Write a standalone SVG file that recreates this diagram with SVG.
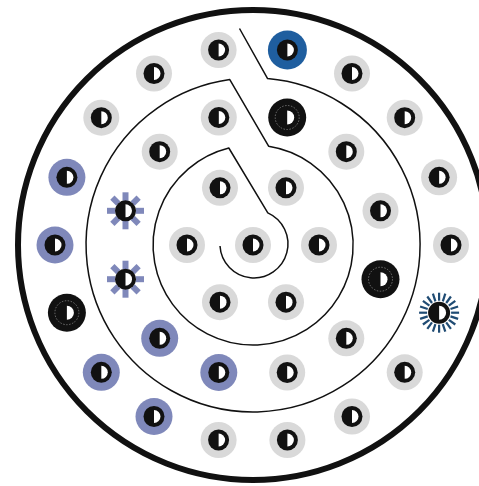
<svg xmlns="http://www.w3.org/2000/svg" xmlns:xlink="http://www.w3.org/1999/xlink" width="479" height="486" viewBox="0 0 479 486">
<style>
.g{fill:#d9d9d9}
.p{fill:#7f88ba}
.b{fill:#1f5e9f}
.k{fill:#111}
.w{fill:#fff}
.sp{fill:none;stroke:#111;stroke-width:1.5;stroke-linejoin:round}
.rp{stroke:#7f88ba;stroke-width:6}
.rd{stroke:#1f4b73;stroke-width:2.2}
</style>
<defs>
<g id="core"><circle r="10.5" class="k"/><path d="M0,-6.5A6.5,6.5 0 0 1 0,6.5Z" class="w"/></g>
<g id="gray"><circle r="18" class="g"/><use href="#core"/></g>
<g id="purple"><circle r="18.5" class="p"/><use href="#core"/></g>
<g id="blue"><circle r="19.5" class="b"/><use href="#core"/></g>
<g id="black"><circle r="19" class="k"/><circle r="12" fill="none" stroke="#aaa" stroke-width="0.6" stroke-dasharray="1.5 1.5"/><path d="M0,-7A7,7 0 0 1 0,7Z" class="w"/></g>
<g id="sunp"><g class="rp">
<line x1="0" y1="-10" x2="0" y2="-18.5"/><line x1="0" y1="10" x2="0" y2="18.5"/><line x1="-10" y1="0" x2="-18.5" y2="0"/><line x1="10" y1="0" x2="18.5" y2="0"/>
<line x1="7.1" y1="-7.1" x2="13.1" y2="-13.1"/><line x1="-7.1" y1="-7.1" x2="-13.1" y2="-13.1"/><line x1="7.1" y1="7.1" x2="13.1" y2="13.1"/><line x1="-7.1" y1="7.1" x2="-13.1" y2="13.1"/>
</g><use href="#core"/></g>
<g id="sund"><g class="rd">
<line x1="0" y1="-12" x2="0" y2="-20"/><line x1="3.7" y1="-11.4" x2="6.2" y2="-19"/><line x1="7.1" y1="-9.7" x2="11.8" y2="-16.2"/><line x1="9.7" y1="-7.1" x2="16.2" y2="-11.8"/><line x1="11.4" y1="-3.7" x2="19" y2="-6.2"/>
<line x1="12" y1="0" x2="20" y2="0"/><line x1="11.4" y1="3.7" x2="19" y2="6.2"/><line x1="9.7" y1="7.1" x2="16.2" y2="11.8"/><line x1="7.1" y1="9.7" x2="11.8" y2="16.2"/><line x1="3.7" y1="11.4" x2="6.2" y2="19"/>
<line x1="0" y1="12" x2="0" y2="20"/><line x1="-3.7" y1="11.4" x2="-6.2" y2="19"/><line x1="-7.1" y1="9.7" x2="-11.8" y2="16.2"/><line x1="-9.7" y1="7.1" x2="-16.2" y2="11.8"/><line x1="-11.4" y1="3.7" x2="-19" y2="6.2"/>
<line x1="-12" y1="0" x2="-20" y2="0"/><line x1="-11.4" y1="-3.7" x2="-19" y2="-6.2"/><line x1="-9.7" y1="-7.1" x2="-16.2" y2="-11.8"/><line x1="-7.1" y1="-9.7" x2="-11.8" y2="-16.2"/><line x1="-3.7" y1="-11.4" x2="-6.2" y2="-19"/>
</g><circle r="11" class="k"/><path d="M0,-7A7,7 0 0 1 0,7Z" class="w"/></g>
</defs>
<rect width="479" height="486" fill="#fff"/>
<circle id="frame" cx="253" cy="245" r="235" fill="none" stroke="#111" stroke-width="6"/>
<g id="connectors">
<path class="sp" d="M239.5,28.5 L267.6,78.6 A167,167 0 1 1 229.8,79.6 L268.6,146.2 A100,100 0 1 1 228.8,148 L267.8,212.9 A34,34 0 1 1 220,246"/>
</g>
<g id="nodes">
<g id="n_c"><use href="#gray" x="253" y="245"/></g>
<g id="n1_0"><use href="#gray" x="319" y="245"/></g>
<g id="n1_60"><use href="#gray" x="286" y="187.8"/></g>
<g id="n1_120"><use href="#gray" x="220" y="187.8"/></g>
<g id="n1_180"><use href="#gray" x="187" y="245"/></g>
<g id="n1_240"><use href="#gray" x="220" y="302.2"/></g>
<g id="n1_300"><use href="#gray" x="286" y="302.2"/></g>
<g id="n2_15"><use href="#gray" x="380.5" y="210.8"/></g>
<g id="n2_45"><use href="#gray" x="346.3" y="151.7"/></g>
<g id="n2_75"><use href="#black" x="287.2" y="117.5"/></g>
<g id="n2_105"><use href="#gray" x="218.8" y="117.5"/></g>
<g id="n2_135"><use href="#gray" x="159.7" y="151.7"/></g>
<g id="n2_165"><use href="#sunp" x="125.5" y="210.8"/></g>
<g id="n2_195"><use href="#sunp" x="125.5" y="279.2"/></g>
<g id="n2_225"><use href="#purple" x="159.7" y="338.3"/></g>
<g id="n2_255"><use href="#purple" x="218.8" y="372.5"/></g>
<g id="n2_285"><use href="#gray" x="287.2" y="372.5"/></g>
<g id="n2_315"><use href="#gray" x="346.3" y="338.3"/></g>
<g id="n2_345"><use href="#black" x="380.5" y="279.2"/></g>
<g id="n3_0"><use href="#gray" x="451" y="245"/></g>
<g id="n3_20"><use href="#gray" x="439.1" y="177.3"/></g>
<g id="n3_40"><use href="#gray" x="404.7" y="117.7"/></g>
<g id="n3_60"><use href="#gray" x="352" y="73.5"/></g>
<g id="n3_80"><use href="#blue" x="287.4" y="50"/></g>
<g id="n3_100"><use href="#gray" x="218.6" y="50"/></g>
<g id="n3_120"><use href="#gray" x="154" y="73.5"/></g>
<g id="n3_140"><use href="#gray" x="101.3" y="117.7"/></g>
<g id="n3_160"><use href="#purple" x="66.9" y="177.3"/></g>
<g id="n3_180"><use href="#purple" x="55" y="245"/></g>
<g id="n3_200"><use href="#black" x="66.9" y="312.7"/></g>
<g id="n3_220"><use href="#purple" x="101.3" y="372.3"/></g>
<g id="n3_240"><use href="#purple" x="154" y="416.5"/></g>
<g id="n3_260"><use href="#gray" x="218.6" y="440"/></g>
<g id="n3_280"><use href="#gray" x="287.4" y="440"/></g>
<g id="n3_300"><use href="#gray" x="352" y="416.5"/></g>
<g id="n3_320"><use href="#gray" x="404.7" y="372.3"/></g>
<g id="n3_340"><use href="#sund" x="439.1" y="312.7"/></g>
</g>
</svg>
